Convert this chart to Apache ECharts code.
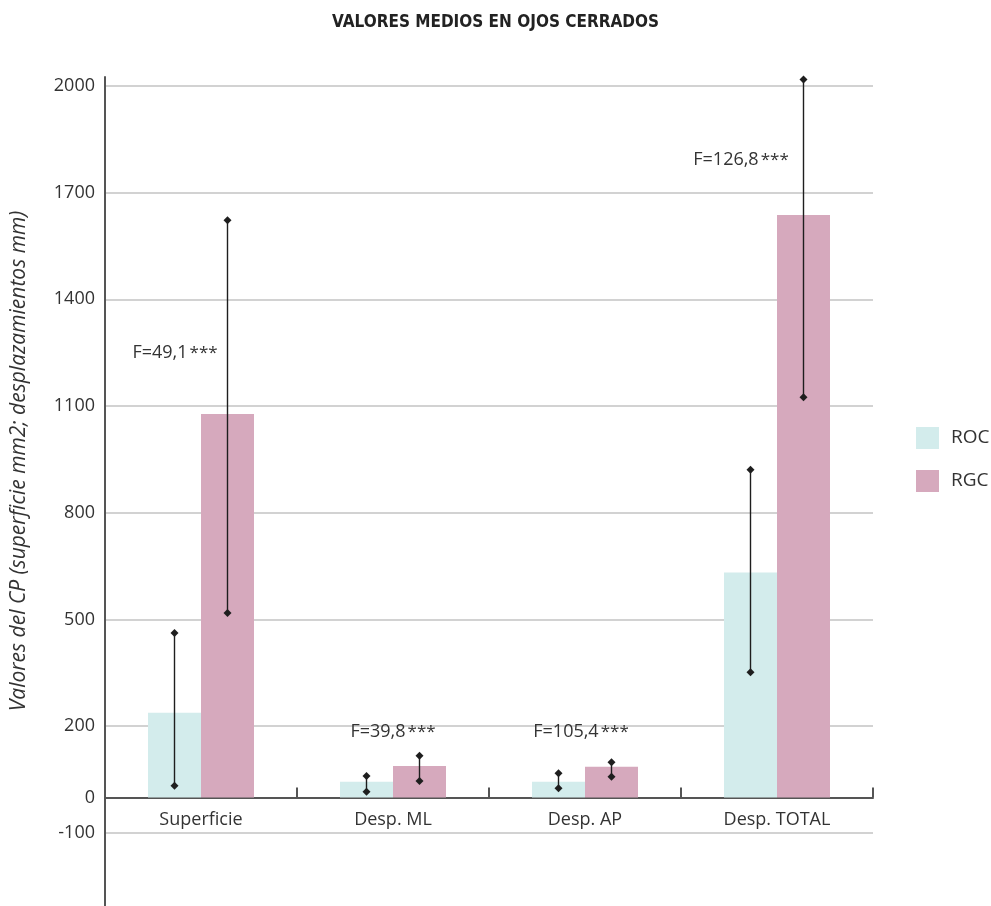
<!DOCTYPE html>
<html>
<head>
<meta charset="utf-8">
<title>Valores medios en ojos cerrados</title>
<script src="https://cdn.jsdelivr.net/npm/echarts@6/dist/echarts.min.js"></script>
<style>
  html, body { margin: 0; padding: 0; background: #fff; }
  #chart { width: 991px; height: 906px; }
</style>
</head>
<body>
<div id="chart"></div>
<script>
// Categories and group names
const categories = ['Superficie', 'Desp. ML', 'Desp. AP', 'Desp. TOTAL'];
const groupNames = ['ROC', 'RGC'];

// Mean values per group
const rocMean = [238, 44, 44, 632];
const rgcMean = [1078, 88, 86, 1637];

// Dispersion whiskers (lower / upper ends)
const rocLow  = [33, 16, 26, 352];
const rocHigh = [462, 60, 68, 921];
const rgcLow  = [518, 46, 58, 1125];
const rgcHigh = [1622, 117, 99, 2018];

// F statistics shown above each group
const fTexts  = ['F=49,1', 'F=39,8', 'F=105,4', 'F=126,8'];
const fLevels = [1249, 184, 184, 1792];

// Value-axis labels
const yLabels = [-100, 0, 200, 500, 800, 1100, 1400, 1700, 2000];

const BAR_W = 53;
const fDx = [-26, 0, -4, -36];
const FONT = '"Open Sans", sans-serif';

// Value axis range and plot area (the plot runs past the bottom edge)
const Y_MIN = -400, Y_MAX = 2025;
const GRID_TOP = 77, GRID_H = 862.7;
// Category axis sits on the zero line: shift it up from the grid bottom
const zeroOffset = -GRID_H * (0 - Y_MIN) / (Y_MAX - Y_MIN);

const chart = echarts.init(document.getElementById('chart'));

const errData = [];
categories.forEach((c, i) => {
  errData.push([i, rocLow[i], rocHigh[i], 0]);
  errData.push([i, rgcLow[i], rgcHigh[i], 1]);
});
const noteData = categories.map((c, i) => [i, fLevels[i], i]);

function diamond(x, y, r) {
  return {
    type: 'polygon',
    shape: { points: [[x, y - r], [x + r, y], [x, y + r], [x - r, y]] },
    style: { fill: '#1e1e1e' }
  };
}

const option = {
  animation: false,
  backgroundColor: '#ffffff',
  textStyle: { fontFamily: FONT },
  title: {
    text: 'VALORES MEDIOS EN OJOS CERRADOS',
    left: 'center',
    top: 9,
    textStyle: {
      fontFamily: '"Liberation Sans Narrow", "DejaVu Sans Condensed", sans-serif',
      fontWeight: 'bold', fontSize: 17, color: '#222'
    }
  },
  legend: {
    orient: 'vertical',
    left: 911,
    top: 422,
    icon: 'rect',
    itemWidth: 23,
    itemHeight: 22,
    itemGap: 21,
    data: groupNames,
    textStyle: { fontSize: 19, color: '#333', fontFamily: FONT, padding: [0, 0, 0, 7] }
  },
  graphic: [{
    type: 'text',
    x: 19,
    y: 461,
    rotation: Math.PI / 2,
    style: {
      text: 'Valores del CP (superficie mm2; desplazamientos mm)',
      align: 'center',
      verticalAlign: 'middle',
      font: 'italic 21px "Open Sans"',
      fill: '#333'
    }
  }],
  grid: { left: 105, right: 118, top: GRID_TOP, height: GRID_H, outerBoundsMode: 'none', containLabel: false },
  xAxis: {
    type: 'category',
    data: categories,
    position: 'bottom',
    offset: zeroOffset,
    axisLine: { onZero: false, lineStyle: { color: '#555', width: 2 } },
    axisTick: { show: true, inside: true, length: 10, lineStyle: { color: '#555', width: 2 } },
    axisLabel: { fontSize: 18, color: '#333', margin: 13, fontFamily: FONT },
    splitLine: { show: false }
  },
  yAxis: {
    type: 'value',
    min: Y_MIN,
    max: Y_MAX,
    interval: 300,
    axisLine: { show: true, lineStyle: { color: '#555', width: 2 } },
    axisTick: { show: false },
    axisLabel: {
      fontSize: 18, color: '#333', margin: 10, fontFamily: FONT,
      customValues: yLabels,
      formatter: function (v) { return String(v); }
    },
    splitLine: { show: true, showMaxLine: false, showMinLine: false, lineStyle: { color: '#d2d2d2', width: 2 } }
  },
  series: [
    {
      name: groupNames[0], type: 'bar', data: rocMean,
      barWidth: BAR_W, barGap: '0%',
      itemStyle: { color: '#d3ecec' }
    },
    {
      name: groupNames[1], type: 'bar', data: rgcMean,
      barWidth: BAR_W, barGap: '0%',
      itemStyle: { color: '#d6a9bd' }
    },
    {
      type: 'custom',
      data: errData,
      z: 5,
      silent: true,
      renderItem: function (params, api) {
        const side = api.value(3) === 0 ? -1 : 1;
        const lo = api.coord([api.value(0), api.value(1)]);
        const hi = api.coord([api.value(0), api.value(2)]);
        const x = lo[0] + side * BAR_W / 2;
        return {
          type: 'group',
          children: [
            { type: 'line', shape: { x1: x, y1: lo[1], x2: x, y2: hi[1] },
              style: { stroke: '#1e1e1e', lineWidth: 1.4 } },
            diamond(x, lo[1], 4),
            diamond(x, hi[1], 4)
          ]
        };
      }
    },
    {
      type: 'custom',
      data: noteData,
      z: 6,
      silent: true,
      renderItem: function (params, api) {
        const idx = api.value(2);
        const p = api.coord([api.value(0), api.value(1)]);
        return {
          type: 'text',
          x: p[0] + fDx[idx],
          y: p[1],
          style: {
            text: '{a|' + fTexts[idx] + '}{b|***}',
            align: 'center',
            verticalAlign: 'middle',
            rich: {
              a: { fontSize: 18, fill: '#333', fontFamily: FONT },
              b: { fontSize: 17, fill: '#333', fontFamily: FONT, padding: [0, 0, 0, 2] }
            }
          }
        };
      }
    }
  ]
};

chart.setOption(option);
</script>
</body>
</html>
